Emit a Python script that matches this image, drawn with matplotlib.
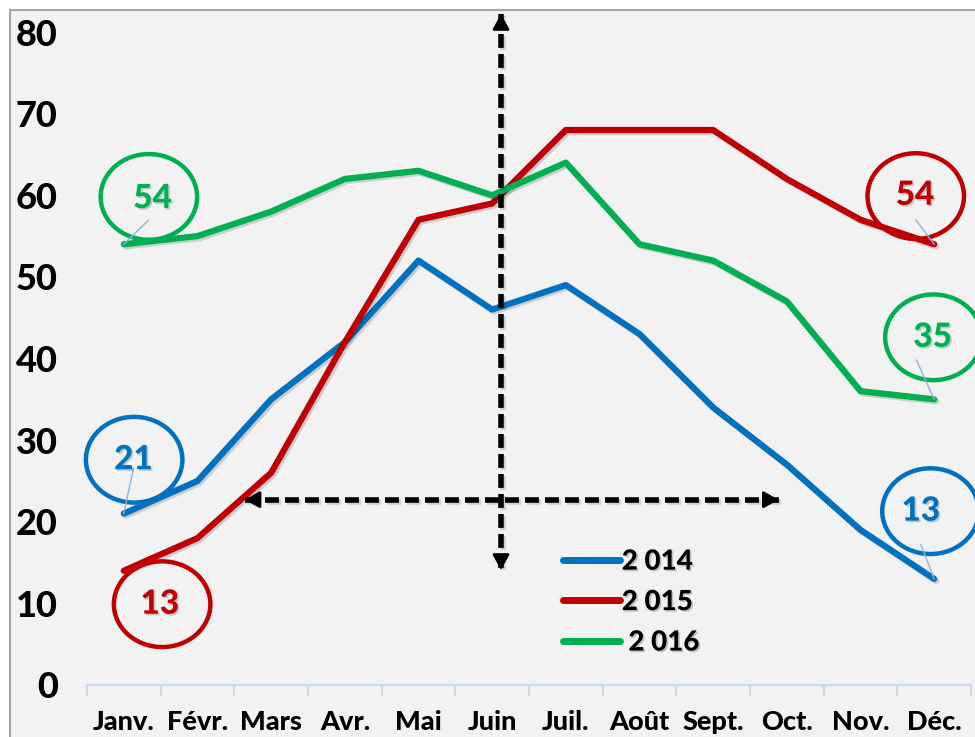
import numpy as np
import matplotlib.pyplot as plt
import matplotlib.patheffects as pe
from matplotlib.patches import Ellipse, Rectangle

plt.rcParams['font.family'] = ['Lato', 'DejaVu Sans']
plt.rcParams['font.weight'] = 'black'

# data
mois = ["Janv.", "Févr.", "Mars", "Avr.", "Mai", "Juin",
        "Juil.", "Août", "Sept.", "Oct.", "Nov.", "Déc."]
v2014 = [21, 25, 35, 42, 52, 46, 49, 43, 34, 27, 19, 13]
v2015 = [14, 18, 26, 42, 57, 59, 68, 68, 68, 62, 57, 54]
v2016 = [54, 55, 58, 62, 63, 60, 64, 54, 52, 47, 36, 35]
labels = ["2 014", "2 015", " 2 016"]
colors = ["#0070c0", "#c00000", "#00b050"]

fig = plt.figure(figsize=(9.75, 7.37), dpi=100)
fig.patch.set_facecolor("white")
# chart frame (gray border on left/top, light gray fill)
frame = Rectangle((10/975, -0.01), 1.0, 1 - 10/737 + 0.01,
                  transform=fig.transFigure, facecolor="#f2f2f2",
                  edgecolor="#a6a6a6", linewidth=1.5, zorder=-10)
fig.add_artist(frame)

ax = fig.add_axes([87/975, 1 - 685/737, 884/975, 675/737])
ax.set_facecolor("none")
x = np.arange(len(mois))

shadow = [pe.SimpleLineShadow(offset=(1.5, -1.5), alpha=0.15), pe.Normal()]
for vals, lab, c in zip([v2014, v2015, v2016], labels, colors):
    ax.plot(x, vals, color=c, lw=4.5, label=lab, solid_capstyle="round",
            solid_joinstyle="round", path_effects=shadow, zorder=3)

ax.set_xlim(-0.5, 11.5)
ax.set_ylim(0, 82.7)
ax.set_yticks(range(0, 81, 10))
ax.tick_params(axis="y", length=0, pad=21, labelsize=26)
ax.set_xticks(x)
ax.set_xticklabels(mois)
ax.set_xticks(np.arange(-0.5, 12, 1), minor=True)
ax.tick_params(axis="x", which="major", length=0, pad=18, labelsize=19.5)
ax.tick_params(axis="x", which="minor", length=8, width=1.5, color="#c9daf0")
for s in ["top", "right", "left"]:
    ax.spines[s].set_visible(False)
ax.spines["bottom"].set_color("#c9daf0")
ax.spines["bottom"].set_linewidth(1.5)

# annotations: circled values
txt_shadow = [pe.SimplePatchShadow(offset=(1.2, -1.2), alpha=0.2), pe.Normal()]
notes = [
    # text, color, ellipse center, text pos, leader start, leader end
    ("54", colors[2], (0.34, 59.8), (0.39, 59.6), (0, 54), (0.33, 56.9)),
    ("21", colors[0], (0.14, 27.6), (0.13, 27.6), (0, 21), (0.13, 26.5)),
    ("13", colors[1], (0.52, 9.9), (0.49, 9.9), None, None),
    ("54", colors[1], (10.75, 59.9), (10.74, 60.0), (11, 54), (10.75, 57.0)),
    ("35", colors[2], (10.99, 42.6), (10.98, 42.6), (11, 35), (10.76, 39.8)),
    ("13", colors[0], (10.95, 21.3), (10.82, 21.3), (11, 13), (10.82, 17.2)),
]
for t, c, ec, tp, l0, l1 in notes:
    ax.add_patch(Ellipse(ec, 1.31, 10.5, fill=False, edgecolor=c, lw=3.2,
                         clip_on=False, zorder=4))
    ax.text(tp[0], tp[1], t, color=c, fontsize=24, fontweight="black",
            ha="center", va="center", path_effects=txt_shadow, zorder=5)
    if l0 is not None:
        ax.plot([l0[0], l1[0]], [l0[1], l1[1]], color="#8db4e2", lw=1,
                zorder=4)

# dashed double arrows
def dashed_arrow(x0, y0, x1, y1):
    ax.plot([x0, x1], [y0, y1], color="black", lw=4, ls=(0, (2.5, 1.1)),
            zorder=6, clip_on=False, path_effects=shadow)
    for (xa, ya), (xb, yb) in [((x0, y0), (x1, y1)), ((x1, y1), (x0, y0))]:
        ax.annotate("", xy=(xa, ya), xytext=(xa + (xb - xa) * 0.01, ya + (yb - ya) * 0.01),
                    arrowprops=dict(arrowstyle="-|>,head_length=0.9,head_width=0.5",
                                    color="black", lw=2, shrinkA=0, shrinkB=0),
                    annotation_clip=False, zorder=6)

dashed_arrow(5.12, 82.2, 5.12, 14.1)
dashed_arrow(1.64, 22.7, 8.89, 22.7)

leg = ax.legend(loc="upper left", bbox_to_anchor=(0.538, 0.202), frameon=False,
                fontsize=20, handlelength=2.05, handletextpad=0.08,
                labelspacing=0.52, borderpad=0, borderaxespad=0)
for h in leg.get_lines():
    h.set_linewidth(5)
    h.set_path_effects([])
for tx in leg.get_texts():
    tx.set_path_effects(txt_shadow)

fig.savefig("out.png", dpi=100)
